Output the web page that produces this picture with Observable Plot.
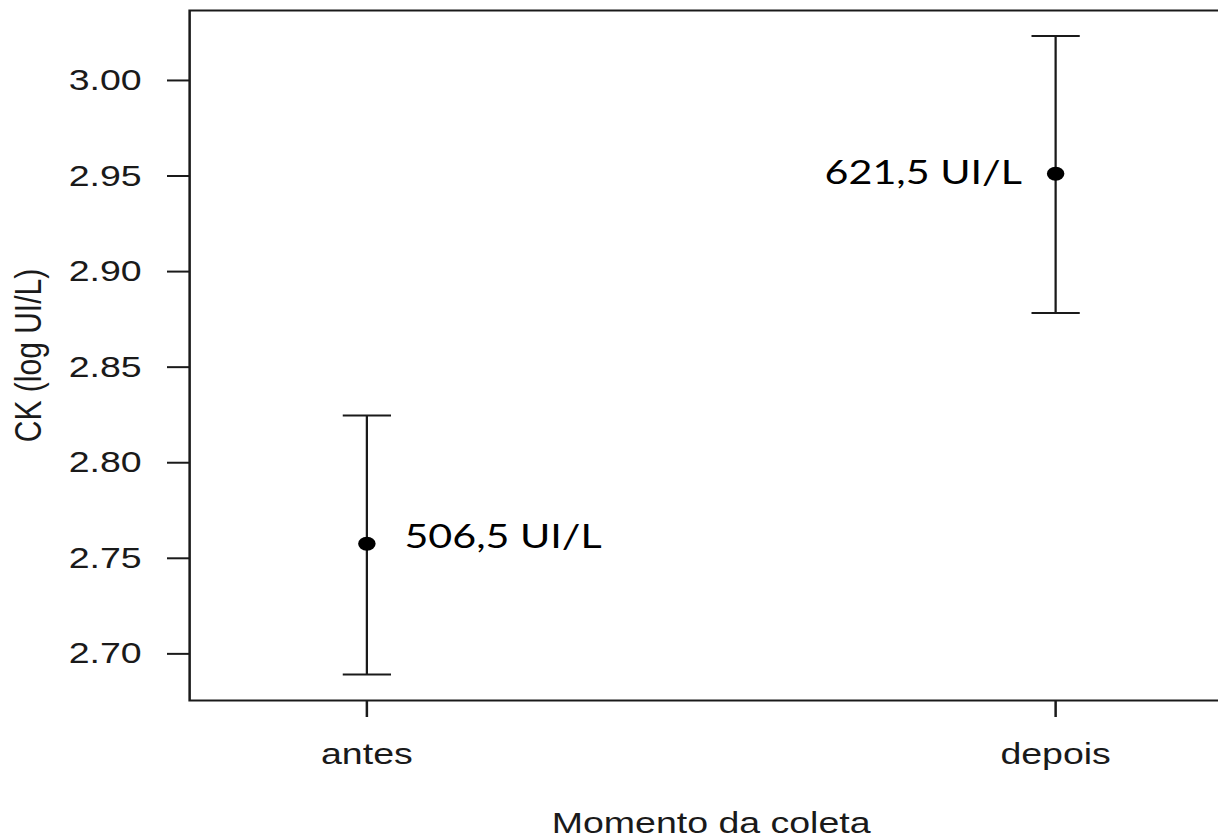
<!DOCTYPE html>
<html>
<head>
<meta charset="utf-8">
<script src="https://cdn.jsdelivr.net/npm/d3@7"></script>
<script src="https://cdn.jsdelivr.net/npm/@observablehq/plot@0.6"></script>
<style>
  html, body { margin: 0; padding: 0; background: #fff; overflow: hidden; }
  #chart { width: 1218px; height: 838px; overflow: hidden; }
</style>
</head>
<body>
<div id="chart"></div>
<script>
const categories = ["antes", "depois"];
const means = [2.7576, 2.9512];
const lower = [2.6892, 2.8784];
const upper = [2.8247, 3.0232];
const valueLabels = ["506,5 UI/L", "621,5 UI/L"];
const yTicks = [2.70, 2.75, 2.80, 2.85, 2.90, 2.95, 3.00];
const yDomain = [2.6756, 3.0366];
const xTitle = "Momento da coleta";
const yTitle = "CK (log UI/L)";

const data = categories.map((c, i) => ({cat: c, mean: means[i], lo: lower[i], hi: upper[i], label: valueLabels[i]}));
const caps = data.flatMap(d => [{cat: d.cat, v: d.lo}, {cat: d.cat, v: d.hi}]);

// horizontal cap symbol
const capSymbol = {
  draw(context, size) {
    const r = Math.sqrt(size / Math.PI);
    context.moveTo(-r, 0);
    context.lineTo(r, 0);
  }
};

const W = 1000, H = 838, stretch = 1.25;
const axisFont = "'Liberation Sans', Arial, Helvetica, sans-serif";
const ink = "#1a1a1a";

const plot = Plot.plot({
  width: W,
  height: H,
  marginLeft: 151.2,
  marginRight: 14.4,
  marginTop: 10,
  marginBottom: 138,
  style: {background: "white", color: ink, fontFamily: axisFont, overflow: "visible"},
  x: {type: "point", domain: categories, padding: 0.256},
  y: {domain: yDomain},
  marks: [
    Plot.axisY({
      ticks: yTicks, tickFormat: d3.format(".2f"),
      tickSize: 17.6, tickPadding: 20.8, fontSize: 30, strokeWidth: 2,
      label: yTitle, labelAnchor: "center", labelArrow: "none", labelOffset: 140
    }),
    Plot.axisX({
      tickSize: 17, tickPadding: 24.7, fontSize: 30, strokeWidth: 2,
      label: xTitle, labelAnchor: "center", labelArrow: "none", labelOffset: 132
    }),
    Plot.frame({stroke: ink, strokeWidth: 2}),
    Plot.ruleX(data, {x: "cat", y1: "lo", y2: "hi", stroke: ink, strokeWidth: 1.8}),
    Plot.dot(caps, {x: "cat", y: "v", r: 19.3, symbol: capSymbol, stroke: ink, strokeWidth: 2, fill: "none"}),
    Plot.dot(data, {x: "cat", y: "mean", r: 7, fill: "black", stroke: "none"}),
    Plot.text(data.filter((d, i) => i === 0), {
      x: "cat", y: "mean", text: "label", textAnchor: "start", dx: 30, dy: -6,
      fontSize: 33, fontFamily: "Lato, 'Open Sans', sans-serif", fill: "black"
    }),
    Plot.text(data.filter((d, i) => i === 1), {
      x: "cat", y: "mean", text: "label", textAnchor: "end", dx: -27, dy: 0,
      fontSize: 33, fontFamily: "Lato, 'Open Sans', sans-serif", fill: "black"
    })
  ]
});

// The reference image is horizontally stretched; reproduce that by scaling the SVG's x-axis.
plot.setAttribute("width", W * stretch);
plot.setAttribute("height", H);
plot.setAttribute("viewBox", `0 0 ${W} ${H}`);
plot.setAttribute("preserveAspectRatio", "none");
plot.style.maxWidth = "none";
plot.style.width = (W * stretch) + "px";
plot.style.height = H + "px";
document.getElementById("chart").appendChild(plot);
</script>
</body>
</html>
